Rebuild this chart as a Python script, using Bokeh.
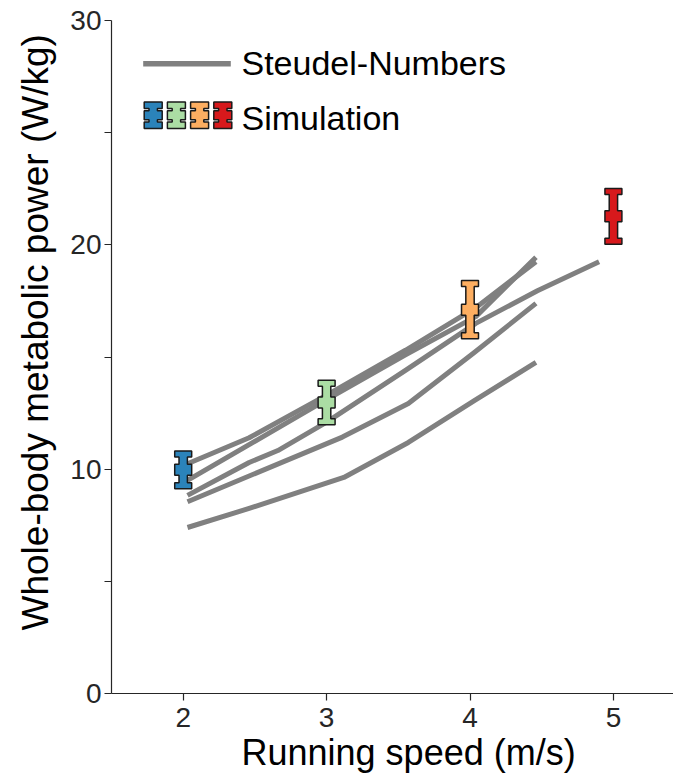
import numpy as np
from bokeh.plotting import figure
from bokeh.models import Range1d, FixedTicker, PolyAnnotation, Label, ColumnDataSource, Title
from bokeh.embed import file_html
from bokeh.resources import INLINE

# ---------------- data ----------------
# Steudel-Numbers measured curves (speed in m/s, metabolic power in W/kg)
steudel_speed_1 = [2.03, 2.46, 3.0, 3.55, 4.04, 4.46]
steudel_power_1 = [10.24, 11.4, 13.3, 15.3, 17.2, 19.25]
steudel_speed_2 = [2.03, 3.0, 3.55, 4.04, 4.46]
steudel_power_2 = [9.5, 13.1, 15.1, 16.8, 19.45]
steudel_speed_3 = [2.03, 2.46, 2.66, 3.0, 3.55, 4.04, 4.47, 4.9]
steudel_power_3 = [8.83, 10.3, 10.83, 12.1, 14.4, 16.5, 17.95, 19.25]
steudel_speed_4 = [2.03, 3.11, 3.57, 4.03, 4.46]
steudel_power_4 = [8.55, 11.43, 12.93, 15.2, 17.39]
steudel_speed_5 = [2.03, 2.46, 3.12, 3.57, 4.03, 4.46]
steudel_power_5 = [7.40, 8.25, 9.63, 11.19, 13.06, 14.76]

# Simulation results (mean +/- sd)
sim_speed = [2, 3, 4, 5]
sim_mean = [9.97, 12.97, 17.11, 21.27]
sim_sd = [0.84, 0.99, 1.30, 1.24]
sim_colors = ["#2b83ba", "#abdda4", "#fdae61", "#d7191c"]

x_ticks = [2, 3, 4, 5]
y_major_ticks = [0, 10, 20, 30]
y_minor_ticks = [5, 15, 25]

legend_line_label = "Steudel-Numbers"
legend_sim_label = "Simulation"
x_label = "Running speed (m/s)"
y_label = "Whole-body metabolic power (W/kg)"

# ---------------- layout ----------------
W, H = 673, 784
ML, MR, MT, MB = 110, 0, 20, 91
X0, X1 = 1.5, 5.419
Y0, Y1 = 0, 30
FONT = "Liberation Sans"
AX_COL = "#262626"

frame_w = W - ML - MR
frame_h = H - MT - MB
px_x = frame_w / (X1 - X0)
px_y = frame_h / (Y1 - Y0)

p = figure(width=W, height=H, output_backend="svg", toolbar_location=None,
           title=None, x_range=Range1d(X0, X1), y_range=Range1d(Y0, Y1),
           min_border_left=ML, min_border_right=MR, min_border_top=MT,
           min_border_bottom=MB)
p.outline_line_color = None
p.xgrid.grid_line_color = None
p.ygrid.grid_line_color = None
p.background_fill_color = "white"
p.border_fill_color = "white"

# gray Steudel lines
all_x = [steudel_speed_1, steudel_speed_2, steudel_speed_3, steudel_speed_4, steudel_speed_5]
all_y = [steudel_power_1, steudel_power_2, steudel_power_3, steudel_power_4, steudel_power_5]
p.multi_line(xs=all_x, ys=all_y, line_color="#808080", line_width=5,
             line_cap="butt", line_join="round")


def ibar(cx, m, s, cw, sw, ch, bh):
    top, bot = m + s, m - s
    xs = [cx - cw, cx + cw, cx + cw, cx + sw, cx + sw, cx + cw, cx + cw, cx + sw,
          cx + sw, cx + cw, cx + cw, cx - cw, cx - cw, cx - sw, cx - sw, cx - cw,
          cx - cw, cx - sw, cx - sw, cx - cw]
    ys = [top, top, top - ch, top - ch, m + bh, m + bh, m - bh, m - bh,
          bot + ch, bot + ch, bot, bot, bot + ch, bot + ch, m - bh, m - bh,
          m + bh, m + bh, top - ch, top - ch]
    return xs, ys


bx, by = [], []
for sx, m, s in zip(sim_speed, sim_mean, sim_sd):
    xs, ys = ibar(sx, m, s, 8.5 / px_x, 4.2 / px_x, 6.0 / px_y, 5.5 / px_y)
    bx.append(xs)
    by.append(ys)
src = ColumnDataSource(dict(xs=bx, ys=by, color=sim_colors))
p.patches(xs="xs", ys="ys", fill_color="color", line_color="#1a1a1a",
          line_width=1.5, source=src)

# ---------------- legend (manual, frame-relative pixels) ----------------
leg_line = PolyAnnotation(xs=[31.7, 119.3, 119.3, 31.7], ys=[627.0, 627.0, 632.4, 632.4],
                          xs_units="screen", ys_units="screen",
                          fill_color="#808080", fill_alpha=1.0, line_color=None)
p.add_layout(leg_line)
for i, c in enumerate(sim_colors):
    cx = 41.7 + i * 23.2
    xs, ys = ibar(cx, 578.3, 13.2, 9.0, 4.2, 6.5, 4.5)
    p.add_layout(PolyAnnotation(xs=xs, ys=ys, xs_units="screen", ys_units="screen",
                                fill_color=c, fill_alpha=1.0, line_color="#1a1a1a",
                                line_alpha=1.0, line_width=1.5))
p.add_layout(Label(x=130, y=631, x_units="screen", y_units="screen", text=legend_line_label,
                   text_font=FONT, text_font_size="34px", text_color="black",
                   text_baseline="alphabetic", text_align="left"))
p.add_layout(Label(x=130, y=576, x_units="screen", y_units="screen", text=legend_sim_label,
                   text_font=FONT, text_font_size="34px", text_color="black",
                   text_baseline="alphabetic", text_align="left"))

# ---------------- axes ----------------
p.xaxis.ticker = FixedTicker(ticks=x_ticks, minor_ticks=[])
p.yaxis.ticker = FixedTicker(ticks=y_major_ticks, minor_ticks=y_minor_ticks)
for ax in (p.xaxis[0], p.yaxis[0]):
    ax.axis_line_color = AX_COL
    ax.axis_line_width = 1.2
    ax.major_tick_line_color = AX_COL
    ax.major_tick_line_width = 1.2
    ax.major_tick_out = 7
    ax.major_tick_in = 0
    ax.minor_tick_out = 7
    ax.minor_tick_in = 0
    ax.minor_tick_line_width = 1.2
    ax.major_label_text_font = FONT
    ax.major_label_text_font_size = "28px"
    ax.major_label_text_color = AX_COL
p.xaxis.minor_tick_line_color = None
p.yaxis.minor_tick_line_color = AX_COL
p.xaxis.major_label_standoff = 7
p.yaxis.major_label_standoff = 3

# axis titles as side-panel titles (lets them sit where the reference has them)
ytitle = Title(text=y_label, align="left", offset=63, standoff=24,
               text_font=FONT, text_font_size="37px", text_font_style="normal",
               text_color="black")
p.add_layout(ytitle, "left")
xtitle = Title(text=x_label, align="left", offset=130, standoff=0,
               text_font=FONT, text_font_size="36px", text_font_style="normal",
               text_color="black")
p.add_layout(xtitle, "below")

open("out.html", "w").write(file_html(p, INLINE))
